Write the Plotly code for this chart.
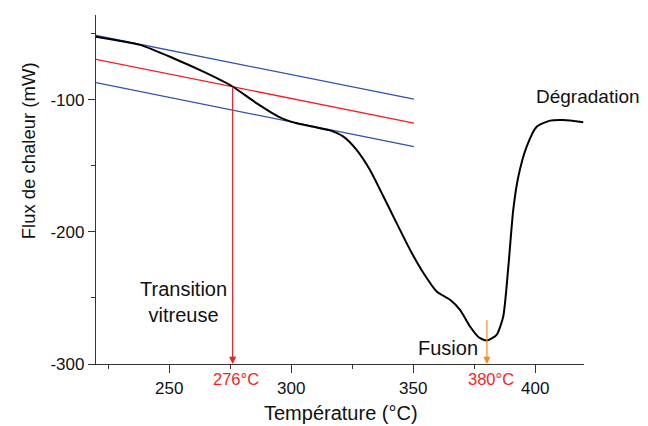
import plotly.graph_objects as go

# DSC curve
temperature = [220, 238, 251.7, 264, 275.6, 285.9, 295.4, 302.3, 309, 315.9, 321.4, 326.8,
               332.3, 337.8, 343.2, 348.7, 354.2, 359.6, 365.1, 369.2, 373.3, 377, 380.1,
               384.2, 386.9, 389, 391, 393.1, 396.5, 400.6, 406.1, 411.5, 419.7]
heat_flow = [-52.4, -58.6, -68.7, -78.9, -89.7, -102.8, -113.4, -117.9, -120.6, -123.3, -128, -138,
             -153.2, -173.3, -193.4, -213.6, -231.2, -245.1, -251.4, -259, -271.6, -280, -282.2,
             -277.9, -264, -226.2, -183.4, -158.2, -135.6, -120.5, -115.9, -115.4, -117.1]

# tangent construction for the glass transition
tangent_x = [220, 350.3]
upper_tangent = [-51.5, -99.7]
mid_line = [-69.5, -117.8]
lower_tangent = [-87.2, -135.5]

tg_temp = 276
tg_flow = -89.5
tm_temp = 380.2
tm_top = -265.8

xticks = [250, 300, 350, 400]
yticks = [-100, -200, -300]
yticklabels = ["-100", "-200", "-300"]

FONT = "Liberation Sans, Arial, sans-serif"
BLUE = "#3053a8"
RED = "#f41f26"
ORANGE = "#f58a1f"
TXT = "#111111"
AXIS = "#333333"

fig = go.Figure()
fig.add_trace(go.Scatter(x=tangent_x, y=upper_tangent, mode="lines",
                         line=dict(color=BLUE, width=1.3)))
fig.add_trace(go.Scatter(x=tangent_x, y=mid_line, mode="lines",
                         line=dict(color=RED, width=1.3)))
fig.add_trace(go.Scatter(x=tangent_x, y=lower_tangent, mode="lines",
                         line=dict(color=BLUE, width=1.3)))
fig.add_trace(go.Scatter(x=temperature, y=heat_flow, mode="lines",
                         line=dict(color="black", width=2, shape="spline", smoothing=0.6)))

annotations = [
    # arrows
    dict(x=tg_temp, y=-300, ax=tg_temp, ay=tg_flow, xref="x", yref="y", axref="x", ayref="y",
         showarrow=True, arrowhead=2, arrowsize=1.2, arrowwidth=1.2, arrowcolor=RED,
         standoff=0, startstandoff=0, text=""),
    dict(x=tm_temp, y=-300, ax=tm_temp, ay=tm_top, xref="x", yref="y", axref="x", ayref="y",
         showarrow=True, arrowhead=2, arrowsize=1.2, arrowwidth=1.2, arrowcolor=ORANGE,
         standoff=0, startstandoff=0, text=""),
    # labels
    dict(x=277.4, y=-300, yshift=-15, xref="x", yref="y", text="276°C", showarrow=False,
         font=dict(family=FONT, size=16.5, color=RED)),
    dict(x=381.7, y=-300, yshift=-15, xref="x", yref="y", text="380°C", showarrow=False,
         font=dict(family=FONT, size=16.5, color=RED)),
    dict(x=255.7, y=-253.3, xref="x", yref="y", text="Transition<br>vitreuse", showarrow=False,
         font=dict(family=FONT, size=20, color=TXT), align="center"),
    dict(x=364.3, y=-287.7, xref="x", yref="y", text="Fusion", showarrow=False,
         font=dict(family=FONT, size=20, color=TXT)),
    dict(x=0.897, y=0.802, xref="paper", yref="paper", text="Dégradation", showarrow=False,
         xanchor="left", font=dict(family=FONT, size=19, color=TXT)),
    # axis titles
    dict(x=0.502, y=-0.139, xref="paper", yref="paper", text="Température (°C)", showarrow=False,
         xanchor="center", yanchor="middle", font=dict(family=FONT, size=20, color=TXT)),
    dict(x=-0.139, y=0.610, xref="paper", yref="paper", text="Flux de chaleur (mW)", showarrow=False,
         textangle=-90, xanchor="center", yanchor="middle", font=dict(family=FONT, size=18.5, color=TXT)),
]

# the page body adds 8px around the figure
fig.update_layout(
    width=640, height=418,
    margin=dict(l=88, r=64, t=7, b=62),
    paper_bgcolor="white", plot_bgcolor="white",
    showlegend=False,
    font=dict(family=FONT, size=17, color=TXT),
    annotations=annotations,
)
fig.update_xaxes(
    range=[220, 420], tickvals=xticks, showgrid=False, zeroline=False, automargin=False,
    showline=True, linecolor=AXIS, linewidth=1.3,
    ticks="outside", ticklen=8, tickwidth=1.3, tickcolor=AXIS,
    minor=dict(tickvals=[225, 275, 325, 375], ticks="outside", ticklen=4, tickwidth=1.3,
               tickcolor=AXIS, showgrid=False),
    tickfont=dict(family=FONT, size=17, color=TXT),
)
fig.update_yaxes(
    range=[-300, -36], tickvals=yticks, ticktext=yticklabels, showgrid=False, zeroline=False,
    automargin=False, showline=True, linecolor=AXIS, linewidth=1.3,
    ticks="outside", ticklen=7, tickwidth=1.3, tickcolor=AXIS,
    minor=dict(tickvals=[-50, -150, -250], ticks="outside", ticklen=4, tickwidth=1.3,
               tickcolor=AXIS, showgrid=False),
    tickfont=dict(family=FONT, size=17, color=TXT),
)

fig.write_html("out.html")
